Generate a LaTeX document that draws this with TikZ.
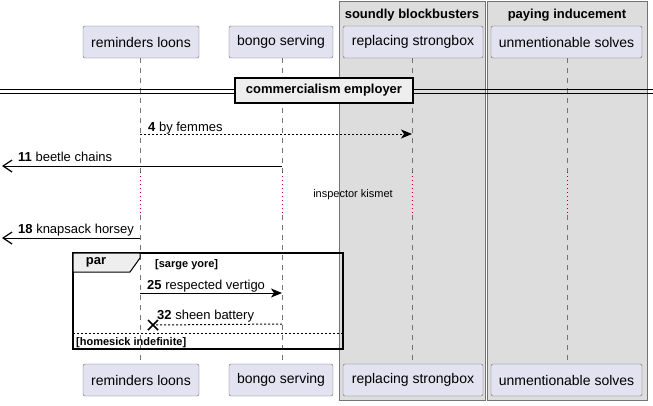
\documentclass[tikz,border=0pt]{standalone}
\usepackage{fontspec}
\setmainfont{Liberation Sans}
\usetikzlibrary{arrows.meta,positioning,calc}
\definecolor{partfill}{HTML}{E2E2F0}
\definecolor{boxfill}{HTML}{DDDDDD}
\definecolor{tabfill}{HTML}{EEEEEE}
\definecolor{delayred}{HTML}{A80036}
\tikzset{
  part/.style={draw=black!60, fill=partfill, rounded corners=2pt, minimum height=32,
    inner sep=0pt, font=\fontsize{14}{16}\selectfont},
  grp/.style={draw=black!55, fill=boxfill},
  life/.style={draw=black!55, line width=0.8, dash pattern=on 5 off 5},
  delay/.style={draw=delayred, line width=1, dash pattern=on 1.2 off 2.8},
  msg/.style={line width=1, -{Stealth[length=11,width=9,inset=3]}},
  dotline/.style={line width=1, dash pattern=on 2 off 2},
  reply/.style={msg, dotline},
  lost/.style={line width=1, -{Straight Barb[length=9,width=12,line width=1.2]}},
  lbl/.style={anchor=base west, inner sep=0pt, font=\fontsize{13}{15}\selectfont},
  cond/.style={anchor=base west, inner sep=0pt, font=\bfseries\fontsize{11}{13}\selectfont},
}
\begin{document}
\begin{tikzpicture}[x=1pt,y=-1pt]
  \useasboundingbox (0,0) rectangle (653,405);
  % boxes round participants
  \draw[grp] (339,1) rectangle (485,400);
  \draw[grp] (487,1) rectangle (647,400);
  \node[font=\bfseries\fontsize{13}{15}\selectfont] (sb) at (412,15) {soundly blockbusters};
  \node[font=\bfseries\fontsize{13}{15}\selectfont] (pi) at (567,15) {paying inducement};

  % participants, head and foot
  \node[part, minimum width=116] (rlT) at (141,42) {reminders loons};
  \node[part, minimum width=104] (bsT) at (281,42) {bongo serving};
  \node[part, minimum width=140] (rsT) at (413,42) {replacing strongbox};
  \node[part, minimum width=151] (usT) at (566.5,42) {unmentionable solves};
  \node[part, minimum width=116] (rlB) at (141,380) {reminders loons};
  \node[part, minimum width=104] (bsB) at (281,380) {bongo serving};
  \node[part, minimum width=140] (rsB) at (413,380) {replacing strongbox};
  \node[part, minimum width=151] (usB) at (566.5,380) {unmentionable solves};

  % lifelines, with the delay dotted
  \foreach \p/\x in {rl/140,bs/282,rs/412,us/567}{
    \draw[life] (\x,58) -- (\x,172);
    \draw[delay] (\x,172) -- (\x,215);
    \draw[life] (\x,215) -- (\x,364);
  }

  % divider
  \draw[line width=1] (0,89) -- (653,89);
  \draw[line width=1] (0,93) -- (653,93);
  \node[draw, line width=2, fill=tabfill, minimum width=178, minimum height=25,
    font=\bfseries\fontsize{13}{15}\selectfont] (div) at (324,90.5) {commercialism employer};

  % messages
  \coordinate (edge11) at (2,166);
  \coordinate (edge18) at (2,238);
  \draw[reply] (140,134) -- (412,134);
  \node[lbl] (l4) at (148,131) {\textbf{4} by femmes};
  \draw[lost] (282,166) -- (edge11);
  \node[lbl] (l11) at (18,161) {\textbf{11} beetle chains};
  \node[font=\fontsize{11}{13}\selectfont] (kis) at (353,195) {inspector kismet};
  \draw[lost] (140,238) -- (edge18);
  \node[lbl] (l18) at (18,233) {\textbf{18} knapsack horsey};

  % par fragment
  \draw[line width=1.5] (73,253) rectangle (343,349);
  \draw[line width=1, fill=tabfill] (73,253) -- (140,253) -- (140,258) -- (130,272) -- (73,272) -- cycle;
  \node[font=\bfseries\fontsize{13}{15}\selectfont] (par) at (96,262.5) {par};
  \node[cond] (c1) at (155,267) {[sarge yore]};
  \draw[msg] (140,293) -- (282,293);
  \node[lbl] (l25) at (147,289) {\textbf{25} respected vertigo};
  \coordinate (x32) at (153,325);
  \draw[dotline] (282,324) -- (x32);
  \draw[line width=1.5] ($(x32)+(-5,-5)$) -- ($(x32)+(5,5)$) ($(x32)+(-5,5)$) -- ($(x32)+(5,-5)$);
  \node[lbl] (l32) at (157,319) {\textbf{32} sheen battery};
  \draw[dotline] (73,333) -- (343,333);
  \node[cond] (c2) at (76,345) {[homesick indefinite]};
\end{tikzpicture}
\end{document}
